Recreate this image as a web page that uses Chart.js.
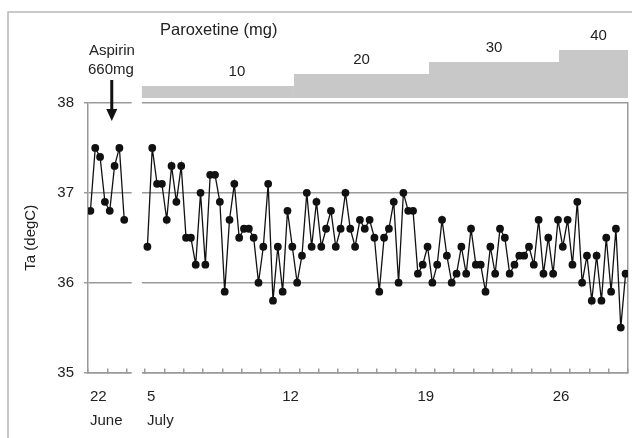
<!DOCTYPE html>
<html>
<head>
<meta charset="utf-8">
<script src="https://cdn.jsdelivr.net/npm/chart.js@4.4.1/dist/chart.umd.min.js"></script>
<style>
    body { margin: 0; background: #fff; }
    canvas { display: block; }
</style>
</head>
<body>
<canvas id="taChart" width="632" height="438"></canvas>
<script>
// body temperature, 4 readings a day
const juneTemps = [36.8, 37.5, 37.4, 36.9, 36.8, 37.3, 37.5, 36.7];
const julyTemps = [
    36.4, 37.5, 37.1, 37.1, 36.7, 37.3, 36.9, 37.3, 36.5, 36.5, 36.2, 37.0, 36.2, 37.2, 37.2, 36.9,
    35.9, 36.7, 37.1, 36.5, 36.6, 36.6, 36.5, 36.0, 36.4, 37.1, 35.8, 36.4, 35.9, 36.8, 36.4, 36.0, 36.3,
    37.0, 36.4, 36.9, 36.4, 36.6, 36.8, 36.4, 36.6, 37.0, 36.6, 36.4, 36.7, 36.6, 36.7, 36.5, 35.9,
    36.5, 36.6, 36.9, 36.0, 37.0, 36.8, 36.8, 36.1, 36.2, 36.4, 36.0, 36.2, 36.7, 36.3, 36.0, 36.1, 36.4,
    36.1, 36.6, 36.2, 36.2, 35.9, 36.4, 36.1, 36.6, 36.5, 36.1, 36.2, 36.3, 36.3, 36.4, 36.2, 36.7, 36.1,
    36.5, 36.1, 36.7, 36.4, 36.7, 36.2, 36.9, 36.0, 36.3, 35.8, 36.3, 35.8, 36.5, 35.9, 36.6, 35.5, 36.1
];
const readingsPerDay = 4;

const juneFirstDay = 22;
const julyFirstDay = 5;
const julyDays = 25;
const juneLabelDays = [22];
const julyLabelDays = [5, 12, 19, 26];

// paroxetine dose steps (start = July day, fractional)
const doseMg = [10, 20, 30, 40];
const doseStart = [4.84, 12.71, 19.70, 26.43];
const doseEnd = 30;

const aspirinDay = 23.23; // June
const aspirinTemp = 37.8;

// day axis: June 22 = 0, July 5 sits a bit after the break
const julyOffset = 2.95;
const gapFrom = 2.26;
const gapTo = julyOffset - 0.16;
const juneAxis = d => d - juneFirstDay;
const julyAxis = d => julyOffset + d - julyFirstDay;

const fontFamily = '"Liberation Sans", Arial, sans-serif';
const gray = '#9a9a9a';
const ink = '#222';

const junePoints = juneTemps.map((t, i) => ({ x: (i + 0.5) / readingsPerDay, y: t }));
const julyPoints = julyTemps.map((t, i) => ({ x: julyOffset + (i + 0.5) / readingsPerDay, y: t }));

const dayTicks = [0, 1, 2];
for (let d = 0; d <= julyDays; d++) dayTicks.push(julyOffset + d);

const overlay = {
    id: "overlay",
    beforeDatasetsDraw(chart) {
        // break in the axis between June and July
        const { ctx, chartArea, scales: { x } } = chart;
        const a = x.getPixelForValue(gapFrom);
        const b = x.getPixelForValue(gapTo);
        ctx.save();
        ctx.fillStyle = "#fff";
        ctx.fillRect(a, chartArea.top - 3, b - a, chartArea.bottom - chartArea.top + 6);
        ctx.restore();
    },
    afterDraw(chart) {
        const { ctx, chartArea, scales: { x, y } } = chart;
        ctx.save();

        // outer frame
        ctx.strokeStyle = "#b8b8b8";
        ctx.lineWidth = 1.5;
        ctx.beginPath();
        ctx.moveTo(8, 438);
        ctx.lineTo(8, 12);
        ctx.lineTo(632, 12);
        ctx.stroke();

        // dose steps
        const base = chartArea.top - 5;
        const labelShift = [19, 0, 0, 5];
        ctx.font = `15px ${fontFamily}`;
        ctx.textAlign = "center";
        ctx.textBaseline = "middle";
        doseMg.forEach((mg, i) => {
            const x0 = x.getPixelForValue(julyAxis(doseStart[i]));
            const x1 = x.getPixelForValue(julyAxis(i + 1 < doseMg.length ? doseStart[i + 1] : doseEnd));
            const top = base - mg * 1.2;
            ctx.fillStyle = "#c8c8c8";
            ctx.fillRect(x0, top, x1 - x0, base - top);
            ctx.fillStyle = ink;
            ctx.fillText(String(mg), (x0 + x1) / 2 + labelShift[i], top - 14);
        });

        ctx.textAlign = "left";
        ctx.fillText("Aspirin", 89, 51);
        ctx.fillText("660mg", 88, 70);
        ctx.font = `16.5px ${fontFamily}`;
        ctx.fillText("Paroxetine (mg)", 160, 30);

        // aspirin arrow
        const ax = x.getPixelForValue(juneAxis(aspirinDay));
        const tip = y.getPixelForValue(aspirinTemp);
        ctx.fillStyle = "#111";
        ctx.fillRect(ax - 1.5, 80, 3, tip - 90);
        ctx.beginPath();
        ctx.moveTo(ax - 5.5, tip - 12);
        ctx.lineTo(ax + 5.5, tip - 12);
        ctx.lineTo(ax, tip);
        ctx.closePath();
        ctx.fill();

        ctx.restore();
    }
};

const lineStyle = {
    borderColor: "#111",
    borderWidth: 1.3,
    pointRadius: 3.9,
    pointBackgroundColor: "#111",
    pointBorderWidth: 0,
    tension: 0
};

new Chart(document.getElementById("taChart"), {
    type: "line",
    data: {
        datasets: [
            { data: junePoints, ...lineStyle },
            { data: julyPoints, ...lineStyle }
        ]
    },
    options: {
        responsive: false,
        animation: false,
        layout: { padding: { top: 103, left: 0, right: 0, bottom: 0 } },
        plugins: { legend: { display: false }, tooltip: { enabled: false } },
        scales: {
            x: {
                type: "linear",
                min: 0,
                max: julyAxis(julyFirstDay + julyDays),
                afterBuildTicks: s => { s.ticks = dayTicks.map(v => ({ value: v })); },
                grid: { drawOnChartArea: false, tickLength: -4, color: gray, lineWidth: 1.5 },
                border: { color: gray, width: 1.5 },
                ticks: {
                    autoSkip: false,
                    maxRotation: 0,
                    align: "start",
                    labelOffset: 2,
                    padding: 17,
                    color: ink,
                    font: { family: fontFamily, size: 15, lineHeight: 1.55 },
                    callback: v => {
                        if (v < gapFrom) {
                            const d = juneFirstDay + Math.round(v);
                            if (!juneLabelDays.includes(d)) return "";
                            return d === juneLabelDays[0] ? [String(d), "June"] : String(d);
                        }
                        const d = julyFirstDay + Math.round(v - julyOffset);
                        if (!julyLabelDays.includes(d)) return "";
                        return d === julyLabelDays[0] ? [String(d), "July"] : String(d);
                    }
                },
                afterFit: s => {
                    s.height = 65.5;
                    s.paddingLeft = 0;
                    s.paddingRight = 0;
                }
            },
            y: {
                min: 35,
                max: 38,
                ticks: {
                    stepSize: 1,
                    padding: 10,
                    color: ink,
                    font: { family: fontFamily, size: 15 }
                },
                grid: { color: gray, lineWidth: 1.5, tickLength: 4 },
                border: { color: gray, width: 1.5 },
                title: {
                    display: true,
                    text: "Ta (degC)",
                    color: ink,
                    font: { family: fontFamily, size: 15 },
                    padding: { top: 22, bottom: 0 }
                },
                afterFit: s => { s.width = 88; }
            },
            y2: {
                position: "right",
                min: 35,
                max: 38,
                ticks: { display: false },
                grid: { display: false },
                border: { color: gray, width: 1.5 },
                afterFit: s => { s.width = 4; }
            }
        }
    },
    plugins: [overlay]
});
</script>
</body>
</html>
